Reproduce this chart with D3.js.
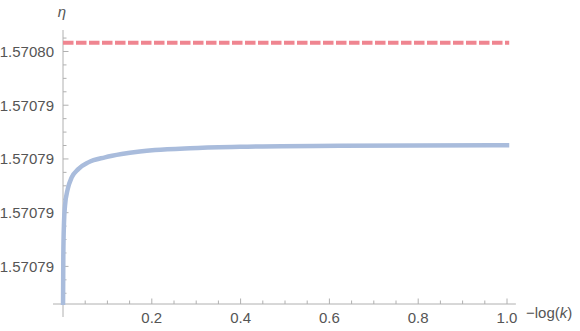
<!DOCTYPE html>
<html>
<head>
<meta charset="utf-8">
<script src="https://cdn.jsdelivr.net/npm/d3@7"></script>
<style>
  body { margin: 0; background: #fff; }
  text { font-family: "Liberation Sans", Arial, sans-serif; fill: #555; }
</style>
</head>
<body>
<script>
// -log(k) values and eta
const xValues = [0.0, 0.0007, 0.0023, 0.0045, 0.0106, 0.0196, 0.0344, 0.057, 0.0946,
                 0.132, 0.173, 0.207, 0.286, 0.399, 0.624, 1.0];
const etaValues = [1.5707862, 1.570788385, 1.570789643, 1.570790252, 1.570790875, 1.570791312,
                   1.570791622, 1.570791872, 1.570792058, 1.570792181, 1.570792275, 1.57079233,
                   1.5707924, 1.57079245, 1.57079249, 1.570792506];
// dashed reference level (pi/2)
const limitValue = [1.5707963268];

const xTicks = [0.2, 0.4, 0.6, 0.8, 1.0];
const xTickLabels = ["0.2", "0.4", "0.6", "0.8", "1.0"];
const yTicks = [1.570796, 1.570794, 1.570792, 1.570790, 1.570788];
const yTickLabels = ["1.57080", "1.57079", "1.57079", "1.57079", "1.57079"];

const w = 580, h = 331;
const margin = ({top: 30, right: 73, bottom: 27, left: 63});

const svg = d3.select("body").append("svg")
    .attr("width", w)
    .attr("height", h);

let x = d3.scaleLinear()
    .domain([0, 1])
    .range([margin.left, w - margin.right]);

let y = d3.scaleLinear()
    .domain([1.5707866, 1.5707968])
    .range([h - margin.bottom, margin.top]);

const axisColor = "#b0b0b0";
const x0 = x(0), yBase = y(1.5707866);

// axis lines
svg.append("line")
    .attr("x1", x(-0.0225)).attr("x2", x(1.02))
    .attr("y1", yBase).attr("y2", yBase)
    .attr("stroke", axisColor);
svg.append("line")
    .attr("x1", x0).attr("x2", x0)
    .attr("y1", y(1.5707968)).attr("y2", yBase + 13)
    .attr("stroke", axisColor);

// x ticks (major + minor)
let xMinor = d3.range(1, 21).map(i => i * 0.05).filter(v => !xTicks.some(t => Math.abs(t - v) < 1e-9));
svg.selectAll(".xminor").data(xMinor).enter().append("line")
    .attr("x1", d => x(d)).attr("x2", d => x(d))
    .attr("y1", yBase).attr("y2", yBase - 3.5)
    .attr("stroke", axisColor);
svg.selectAll(".xmajor").data(xTicks).enter().append("line")
    .attr("x1", d => x(d)).attr("x2", d => x(d))
    .attr("y1", yBase).attr("y2", yBase - 5.5)
    .attr("stroke", axisColor);
svg.selectAll(".xlab").data(xTicks).enter().append("text")
    .attr("x", d => x(d))
    .attr("y", yBase + 19)
    .attr("text-anchor", "middle")
    .attr("font-size", 15)
    .text((d, i) => xTickLabels[i]);

// y ticks (major + minor)
let yMinor = d3.range(0, 21).map(i => 1.570787 + i * 0.5e-6)
    .filter(v => v < 1.5707968 && !yTicks.some(t => Math.abs(t - v) < 1e-10));
svg.selectAll(".yminor").data(yMinor).enter().append("line")
    .attr("x1", x0).attr("x2", x0 + 3.5)
    .attr("y1", d => y(d)).attr("y2", d => y(d))
    .attr("stroke", axisColor);
svg.selectAll(".ymajor").data(yTicks).enter().append("line")
    .attr("x1", x0).attr("x2", x0 + 5.5)
    .attr("y1", d => y(d)).attr("y2", d => y(d))
    .attr("stroke", axisColor);
svg.selectAll(".ylab").data(yTicks).enter().append("text")
    .attr("x", x0 - 9)
    .attr("y", d => y(d) + 5.5)
    .attr("text-anchor", "end")
    .attr("font-size", 15)
    .text((d, i) => yTickLabels[i]);

// clip to plot area
svg.append("clipPath").attr("id", "clip")
  .append("rect")
    .attr("x", x0 - 5).attr("y", margin.top)
    .attr("width", w - margin.right - x0 + 10)
    .attr("height", yBase - margin.top + 1);

// dashed limit
svg.append("line")
    .datum(limitValue[0])
    .attr("x1", x(0)).attr("x2", x(1.005))
    .attr("y1", d => y(d)).attr("y2", d => y(d))
    .attr("stroke", "#ef8590")
    .attr("stroke-width", 4)
    .attr("stroke-dasharray", "10.5,2.5");

// curve
let line = d3.line()
    .x((d, i) => x(xValues[i]))
    .y(d => y(d))
    .curve(d3.curveMonotoneX);

svg.append("path")
    .datum(etaValues)
    .attr("clip-path", "url(#clip)")
    .attr("d", line)
    .attr("fill", "none")
    .attr("stroke", "#a9bcdc")
    .attr("stroke-width", 4.5)
    .attr("stroke-linecap", "square");

// axis labels
svg.append("text")
    .attr("x", x0 - 1)
    .attr("y", 17)
    .attr("text-anchor", "middle")
    .attr("font-size", 15)
    .attr("font-style", "italic")
    .text("η");

let xl = svg.append("text")
    .attr("x", 526)
    .attr("y", yBase + 14)
    .attr("font-size", 15);
xl.append("tspan").text("−log(");
xl.append("tspan").attr("font-style", "italic").text("k");
xl.append("tspan").text(")");
</script>
</body>
</html>
